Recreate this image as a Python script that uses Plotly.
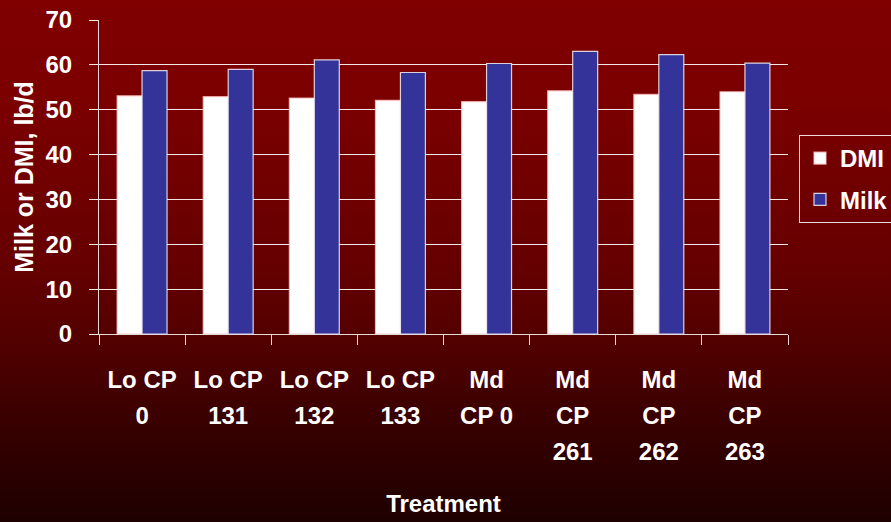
import base64
import plotly.graph_objects as go

# ---- data ----
categories = ["Lo CP 0", "Lo CP 131", "Lo CP 132", "Lo CP 133",
              "Md CP 0", "Md CP 261", "Md CP 262", "Md CP 263"]
tick_lines = [["Lo CP", "0"], ["Lo CP", "131"], ["Lo CP", "132"], ["Lo CP", "133"],
              ["Md", "CP 0"], ["Md", "CP", "261"], ["Md", "CP", "262"], ["Md", "CP", "263"]]
dmi = [53.1, 52.9, 52.6, 52.1, 51.8, 54.2, 53.4, 54.0]
milk = [58.7, 59.0, 61.1, 58.3, 60.3, 63.0, 62.3, 60.4]
y_ticks = [0, 10, 20, 30, 40, 50, 60, 70]

FONT = "Liberation Sans, Arial, sans-serif"
LBL = 24

def fmt(lines):
    return "<br>".join(f"<span style='font-size:{LBL}px'>{l}</span>" for l in lines)

tick_text = [fmt(l) for l in tick_lines]

# background gradient as svg image
svg = """<svg xmlns='http://www.w3.org/2000/svg' width='891' height='522' preserveAspectRatio='none' viewBox='0 0 891 522'>
<defs><linearGradient id='g' x1='0' y1='0' x2='0' y2='1'>
<stop offset='0' stop-color='#800000'/>
<stop offset='0.2' stop-color='#7b0000'/>
<stop offset='0.5' stop-color='#660000'/>
<stop offset='0.65' stop-color='#530000'/>
<stop offset='0.8' stop-color='#3a0000'/>
<stop offset='1' stop-color='#1e0000'/>
</linearGradient></defs>
<rect x='0' y='0' width='891' height='522' fill='url(#g)'/></svg>"""
svg_uri = "data:image/svg+xml;base64," + base64.b64encode(svg.encode()).decode()

L, R, T, B = 99, 103, 20, 188
W, H = 891, 522
pw, ph = W - L - R, H - T - B

fig = go.Figure()
fig.add_trace(go.Bar(
    name="DMI", x=categories, y=dmi,
    marker=dict(color="#ffffff", line=dict(color="rgba(255,190,190,0.8)", width=1.2)),
    legendgroup="a",
))
fig.add_trace(go.Bar(
    name="Milk", x=categories, y=milk,
    marker=dict(color="#333399", line=dict(color="rgba(255,255,255,0.8)", width=1.2)),
    legendgroup="b",
))

fig.update_layout(
    width=W, height=H,
    margin=dict(l=L, r=R, t=T, b=B, autoexpand=False),
    paper_bgcolor="#5a0000",
    plot_bgcolor="rgba(0,0,0,0)",
    barmode="group",
    bargap=0.42,
    bargroupgap=0,
    font=dict(family=FONT, color="white", size=LBL, weight="bold"),
    showlegend=True,
    legend=dict(
        x=(799 - L) / pw, y=(334 - 135) / ph, xanchor="left", yanchor="top",
        bgcolor="rgba(0,0,0,0)", bordercolor="rgba(255,255,255,0.85)", borderwidth=1,
        font=dict(size=LBL, color="white", family=FONT, weight="bold"),
        traceorder="grouped", tracegroupgap=7, itemwidth=30,
    ),
    images=[dict(
        source=svg_uri, xref="paper", yref="paper",
        x=-L / pw, y=1 + T / ph, sizex=W / pw, sizey=H / ph,
        xanchor="left", yanchor="top", sizing="stretch", layer="below",
    )],
    xaxis=dict(
        tickmode="array", tickvals=categories, ticktext=tick_text,
        tickson="boundaries", ticks="outside", ticklen=10, tickcolor="rgba(255,255,255,0.85)",
        showline=True, linecolor="rgba(255,255,255,0.85)", linewidth=1,
        showgrid=False,
        tickfont=dict(size=28, color="white", family=FONT, weight="bold"),
        ticklabelstandoff=19,
        title=dict(text="Treatment", font=dict(size=LBL, color="white", family=FONT, weight="bold"),
                   standoff=30),
    ),
    yaxis=dict(
        range=[0, 70], tickmode="array", tickvals=y_ticks,
        ticks="outside", ticklen=9, tickcolor="rgba(255,255,255,0.9)",
        showline=True, linecolor="rgba(255,255,255,0.85)", linewidth=1,
        showgrid=True, gridcolor="rgba(255,255,255,0.9)", gridwidth=1,
        zeroline=False,
        tickfont=dict(size=LBL, color="white", family=FONT, weight="bold"),
        ticklabelstandoff=12,
        title=dict(text="Milk or DMI, lb/d", font=dict(size=25, color="white", family=FONT, weight="bold"),
                   standoff=4),
    ),
)

fig.write_html("out.html", config={"displayModeBar": False},
               post_script="document.body.style.margin='0';document.body.style.overflow='hidden';")
